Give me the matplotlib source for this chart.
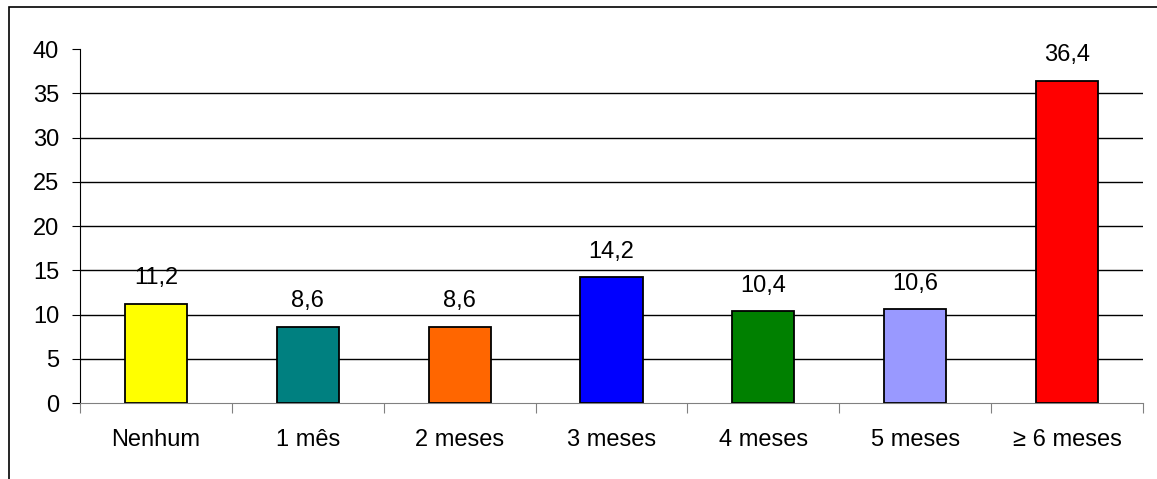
import matplotlib.pyplot as plt
from matplotlib.patches import Rectangle

categories = ['Nenhum', '1 mês', '2 meses', '3 meses', '4 meses', '5 meses', '≥ 6 meses']
values = [11.2, 8.6, 8.6, 14.2, 10.4, 10.6, 36.4]
labels = ['11,2', '8,6', '8,6', '14,2', '10,4', '10,6', '36,4']
colors = ['#FFFF00', '#008080', '#FF6600', '#0000FF', '#008000', '#9999FF', '#FF0000']

plt.rcParams['font.family'] = ['Liberation Sans', 'DejaVu Sans']
fs = 17

fig = plt.figure(figsize=(11.57, 4.79), dpi=100)
ax = fig.add_axes([80 / 1157, 1 - 403 / 479, (1143 - 80) / 1157, (403 - 49) / 479])

# outer frame (only left and top visible in the original)
fig.add_artist(Rectangle((9 / 1157, -0.1), 1.2, 1 - 7 / 479 + 0.1,
                         transform=fig.transFigure, fill=False, edgecolor='black', linewidth=1.2))

x = range(len(categories))
ax.bar(x, values, width=0.41, color=colors, edgecolor='black', linewidth=1.3, zorder=3)
for xi, v, lab in zip(x, values, labels):
    ax.annotate(lab, (xi, v), xytext=(0, 14), textcoords='offset points',
                ha='center', va='baseline', fontsize=fs)

ax.set_xlim(-0.5, len(categories) - 0.5)
ax.set_ylim(0, 40)
ax.set_yticks(range(0, 45, 5))
ax.tick_params(axis='y', labelsize=fs, length=6, direction='out', pad=9)
for yv in range(5, 40, 5):
    ax.axhline(yv, color='black', linewidth=1, zorder=1)

ax.set_xticks([i - 0.5 for i in range(len(categories) + 1)])
ax.set_xticklabels([])
ax.set_xticks(list(x), minor=True)
ax.set_xticklabels(categories, minor=True)
ax.tick_params(axis='x', which='major', length=7, color='#808080', direction='out')
ax.tick_params(axis='x', which='minor', length=0, labelsize=fs, pad=19)

ax.spines['top'].set_visible(False)
ax.spines['right'].set_visible(False)
ax.spines['bottom'].set_color('#808080')
ax.spines['left'].set_color('black')

fig.savefig('out.png', dpi=100)
